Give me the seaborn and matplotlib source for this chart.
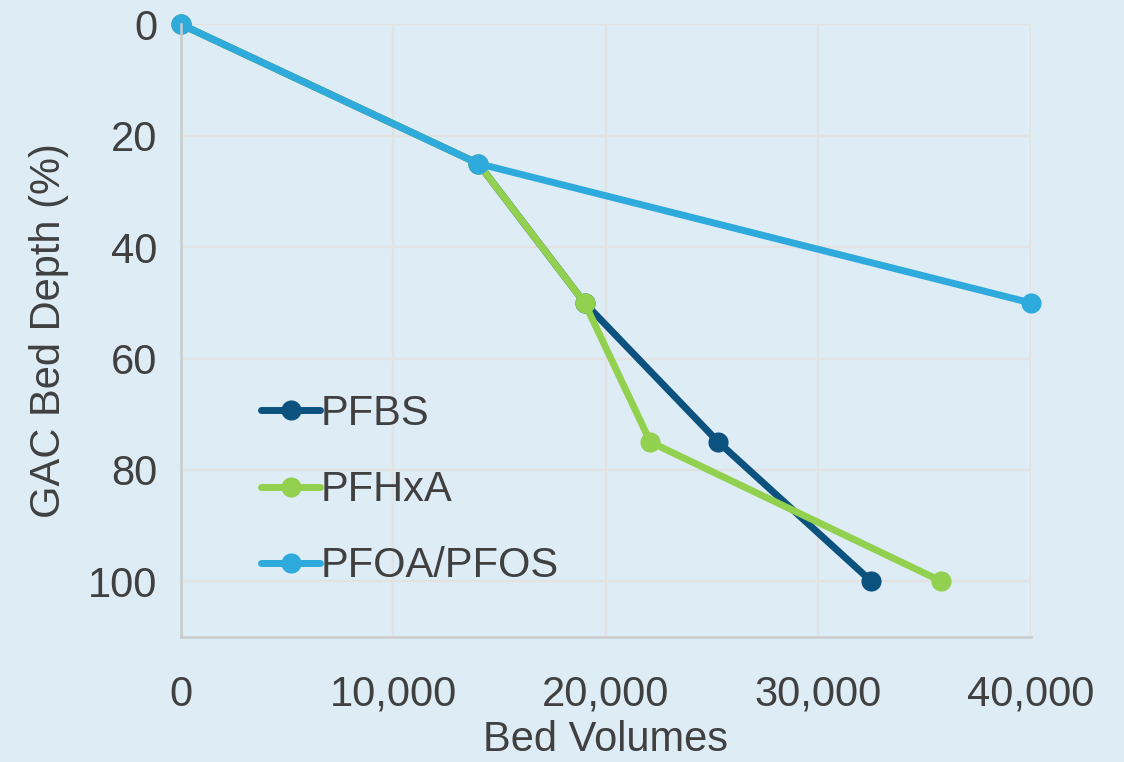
import matplotlib
matplotlib.use("Agg")
import matplotlib.pyplot as plt
import seaborn as sns
import pandas as pd
from matplotlib.ticker import FuncFormatter

# Breakthrough progression through the GAC bed
series_names = ["PFBS", "PFHxA", "PFOA/PFOS"]
pfbs_bv = [0, 14000, 19000, 25300, 32500]
pfbs_depth = [0, 25, 50, 75, 100]
pfhxa_bv = [0, 14000, 19000, 22100, 35800]
pfhxa_depth = [0, 25, 50, 75, 100]
pfoa_pfos_bv = [0, 14000, 40000]
pfoa_pfos_depth = [0, 25, 50]

x_ticks = [0, 10000, 20000, 30000, 40000]
y_ticks = [0, 20, 40, 60, 80, 100]

colors = ["#0b527f", "#92d050", "#2eaadc"]
bg = "#deecf5"
text_color = "#404040"

rows = []
for name, xs, ys in zip(series_names,
                        [pfbs_bv, pfhxa_bv, pfoa_pfos_bv],
                        [pfbs_depth, pfhxa_depth, pfoa_pfos_depth]):
    for i, (xv, yv) in enumerate(zip(xs, ys)):
        rows.append({"Compound": name, "Bed Volumes": xv, "Depth": yv, "order": i})
df = pd.DataFrame(rows)

sns.set_theme(style="white")
plt.rcParams["font.family"] = ["Liberation Sans", "DejaVu Sans"]

fig = plt.figure(figsize=(11.24, 7.62), dpi=100, facecolor=bg)
ax = fig.add_axes([0.161, 0.164, 0.756, 0.804], facecolor=bg)

sns.lineplot(data=df, x="Bed Volumes", y="Depth", hue="Compound",
             hue_order=series_names, palette=colors, sort=False,
             estimator=None, marker="o", markersize=14.5,
             markeredgewidth=0, linewidth=5, ax=ax, legend=False,
             clip_on=False)

ax.set_xlim(0, 40000)
ax.set_ylim(110, 0)
ax.set_xticks(x_ticks)
ax.set_yticks(y_ticks)
ax.xaxis.set_major_formatter(FuncFormatter(lambda v, p: f"{int(v):,}"))

ax.grid(True, color="#e2e2e2", linewidth=1.6)
ax.set_axisbelow(True)
for side in ["top", "right"]:
    ax.spines[side].set_visible(False)
for side in ["left", "bottom"]:
    ax.spines[side].set_color("#c8cbcd")
    ax.spines[side].set_linewidth(1.8)

ax.tick_params(axis="both", length=0, labelsize=30, colors=text_color)
ax.tick_params(axis="x", pad=27)
ax.tick_params(axis="y", pad=17)
ax.set_xlabel("Bed Volumes", fontsize=30, color=text_color, labelpad=4)
ax.set_ylabel("GAC Bed Depth (%)", fontsize=30, color=text_color, labelpad=14)

handles = [plt.Line2D([], [], color=c, linewidth=5, marker="o",
                      markersize=14.5, markeredgewidth=0,
                      solid_capstyle="round")
           for c in colors]
leg = ax.legend(handles, series_names, loc="upper left",
                bbox_to_anchor=(0.075, 0.424), frameon=False,
                fontsize=30, handlelength=1.4, handletextpad=0.02,
                labelspacing=0.87, borderaxespad=0)
for t in leg.get_texts():
    t.set_color(text_color)

fig.savefig("out.png", dpi=100, facecolor=bg)
